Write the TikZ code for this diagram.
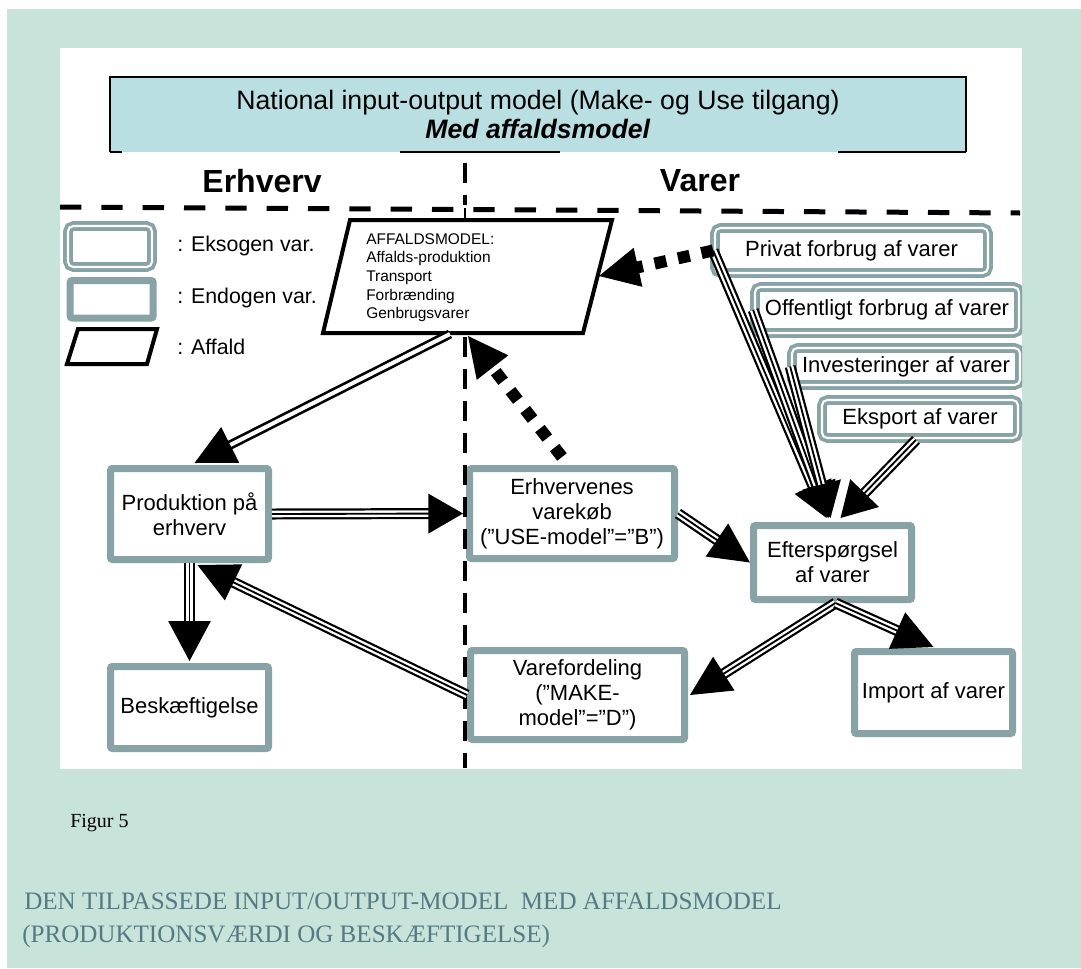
\documentclass[tikz,border=0pt]{standalone}
\usepackage{fontspec}
\setmainfont{Liberation Sans}
\newfontfamily\capserif{Liberation Serif}
\usetikzlibrary{calc}
\definecolor{mint}{HTML}{C7E3DA}
\definecolor{hdrblue}{HTML}{B9DFE2}
\definecolor{bgrey}{HTML}{87A3A5}
\definecolor{capcol}{HTML}{557A84}
\newcommand\upx{0.75pt}
% #1 line style, #2 start, #3 tip, #4 head length, #5 head half width
\newcommand\bigarrow[5]{%
  \coordinate (ba) at (#2);
  \coordinate (bt) at (#3);
  \coordinate (bc) at ($(bt)!#4!(ba)$);
  \draw[#1] (ba) -- ($(bc)!-2pt!(ba)$);
  \fill (bt) -- ($(bc)!#5!90:(bt)$) -- ($(bc)!#5!-90:(bt)$) -- cycle;
}
\begin{document}
\begin{tikzpicture}[x=0.75pt, y=-0.75pt,
  endo/.style={draw=bgrey, line width=5.25pt, fill=white, rounded corners=1.5pt, inner sep=0pt, align=center, font=\fontsize{16.5}{18.75}\selectfont},
  exo/.style={draw=bgrey, line width=2.8pt, double=white, double distance=1.6pt, fill=white, rounded corners=4pt, inner sep=0pt, align=center, font=\fontsize{16.5}{19}\selectfont},
  trip/.style={draw=black, line width=1.4pt, preaction={draw=black, line width=8.25pt}, preaction={draw=white, line width=4.9pt}},
  dbl/.style={draw=black, line width=2pt, double=white, double distance=3pt},
  dots/.style={draw=black, line width=9pt, dash pattern=on 9pt off 9pt},
  legtxt/.style={anchor=west, inner sep=0pt, font=\fontsize{16}{19}\selectfont},
  vdash/.style={line width=3pt, dash pattern=on 15pt off 9pt},
  hdash/.style={line width=3.75pt, dash pattern=on 16pt off 15pt},
]
\useasboundingbox (0,0) rectangle (1081,968);
\fill[white] (0,0) rectangle (1081,968);
\fill[mint] (7,9) rectangle (1081,968);
\fill[white] (60,48) rectangle (1022,769);

\begin{scope}
\clip (60,48) rectangle (1022,769);

% header
\node[fill=hdrblue, minimum width=856*\upx, minimum height=75*\upx, inner sep=0pt, align=center,
      font=\fontsize{20}{22}\selectfont] (hdr) at (538,114.5)
      {National input-output model (Make- og Use tilgang)\\\textbf{\textit{Med affaldsmodel}}};
\draw[line width=1.5pt] (hdr.south west) -- (hdr.north west) -- (hdr.north east) -- (hdr.south east);
\draw[line width=1.5pt] (hdr.south west) -- ++(12,0) (400,152) -- (560,152) (hdr.south east) -- ++(-128,0);

\node[font=\bfseries\fontsize{24}{26}\selectfont, inner sep=0pt] (erhv) at (262,181) {Erhverv};
\node[font=\bfseries\fontsize{24}{26}\selectfont, inner sep=0pt] (varer) at (700,181) {Varer};

% dashed separators
\draw[vdash] (465,163) -- (465,205);
\draw[hdash] (60,207) -- (1020,213);

% legend
\node[exo, minimum width=84*\upx, minimum height=41*\upx] (legexo) at (110,246.5) {};
\node[endo, minimum width=83*\upx, minimum height=37.5*\upx] (legendo) at (111.7,299.3) {};
\draw[line width=3pt, fill=white] (78,329) -- (157,329) -- (147,364) -- (67,364) -- cycle;
\node[legtxt] (l1) at (177,246) {: Eksogen var.};
\node[legtxt] (l2) at (177,298) {: Endogen var.};
\node[legtxt] (l3) at (177,347) {: Affald};

% affaldsmodel parallelogram
\coordinate (aTL) at (350,220);
\coordinate (aTR) at (612,220);
\coordinate (aBR) at (583,333);
\coordinate (aBL) at (323,333);
\draw[line width=1.5pt] (465,208) -- (aTL -| 465,0);
\draw[line width=3pt, fill=white] (aTL) -- (aTR) -- (aBR) -- (aBL) -- cycle;
\node[anchor=north west, inner sep=0pt, align=left, font=\fontsize{11.6}{14}\selectfont] (afftxt) at (366,233)
  {AFFALDSMODEL:\\Affalds-produktion\\Transport\\Forbrænding\\Genbrugsvarer};
\coordinate (affB) at (450,334);
\coordinate (affB2) at (468,336);
\coordinate (affR) at (599,276);

% exogenous boxes
\node[exo, minimum width=273*\upx, minimum height=45*\upx] (priv) at (851.5,250.5) {Privat forbrug af varer};
\node[exo, minimum width=264*\upx, minimum height=46*\upx] (off) at (887,310) {Offentligt forbrug af varer};
\node[exo, minimum width=228*\upx, minimum height=37*\upx] (inv) at (906,366.5) {Investeringer af varer};
\node[exo, minimum width=196*\upx, minimum height=38*\upx] (eks) at (920,419) {Eksport af varer};

% endogenous boxes
\node[endo, minimum width=158*\upx, minimum height=91*\upx] (prod) at (189.5,514) {Produktion på\\erhverv};
\node[endo, minimum width=158*\upx, minimum height=82*\upx] (besk) at (189.5,707.5) {Beskæftigelse};
\node[endo, minimum width=205*\upx, minimum height=90*\upx] (erh) at (572,513.5) {Erhvervenes\\varekøb\\(”USE-model”=”B”)};
\node[endo, minimum width=158*\upx, minimum height=74*\upx] (eft) at (832.5,562.5) {Efterspørgsel\\af varer};
\node[endo, minimum width=214*\upx, minimum height=89*\upx] (varef) at (577.5,695) {Varefordeling\\(”MAKE-\\model”=”D”)};
\node[endo, minimum width=158*\upx, minimum height=82*\upx] (imp) at (933.5,692.5) {Import af varer};

% vertical dashed line below the parallelogram, over the box edges
\draw[vdash] (465,337) -- (465,768);

% arrows
\bigarrow{dbl}{affB}{$(prod.north)+(5,-2)$}{30pt}{15pt}
\bigarrow{trip}{prod.east}{$(erh.west)+(-3,0)$}{26pt}{15pt}
\bigarrow{trip}{prod.south}{$(besk.north)+(0,-2)$}{30pt}{16pt}
\bigarrow{trip}{varef.west}{$(prod.south)+(8,2)$}{30pt}{15pt}
\bigarrow{trip}{erh.east}{eft.west}{30pt}{15pt}
\bigarrow{trip}{$(eft.south)+(3,0)$}{$(varef.east)+(2,0)$}{30pt}{15pt}
\bigarrow{trip}{$(eft.south)+(3,0)$}{$(imp.north)+(0,-1)$}{30pt}{15pt}
\bigarrow{trip}{priv.west}{$(eft.north)+(-6,-4)$}{26pt}{15pt}
\bigarrow{trip}{off.west}{$(eft.north)+(-4,-4)$}{26pt}{15pt}
\bigarrow{trip}{inv.west}{$(eft.north)+(-2,-4)$}{26pt}{15pt}
\bigarrow{trip}{$(eks.south)+(-4,0)$}{$(eft.north)+(8,-4)$}{26pt}{15pt}
\bigarrow{dots}{priv.west}{affR}{30pt}{15pt}
\bigarrow{dots}{$(erh.north)+(-10,-8)$}{affB2}{30pt}{15pt}
\end{scope}

% caption
\node[anchor=west, inner sep=0pt, font=\capserif\fontsize{15}{17}\selectfont] (fig) at (70,823) {Figur 5};
\node[anchor=west, inner sep=0pt, text=capcol, font=\capserif\fontsize{18.8}{20}\selectfont] (cap1) at (24,901)
  {DEN TILPASSEDE INPUT/OUTPUT-MODEL\ \ MED AFFALDSMODEL};
\node[anchor=west, inner sep=0pt, text=capcol, font=\capserif\fontsize{18.8}{20}\selectfont] (cap2) at (22,936)
  {(PRODUKTIONSVÆRDI OG BESKÆFTIGELSE)};
\end{tikzpicture}
\end{document}
